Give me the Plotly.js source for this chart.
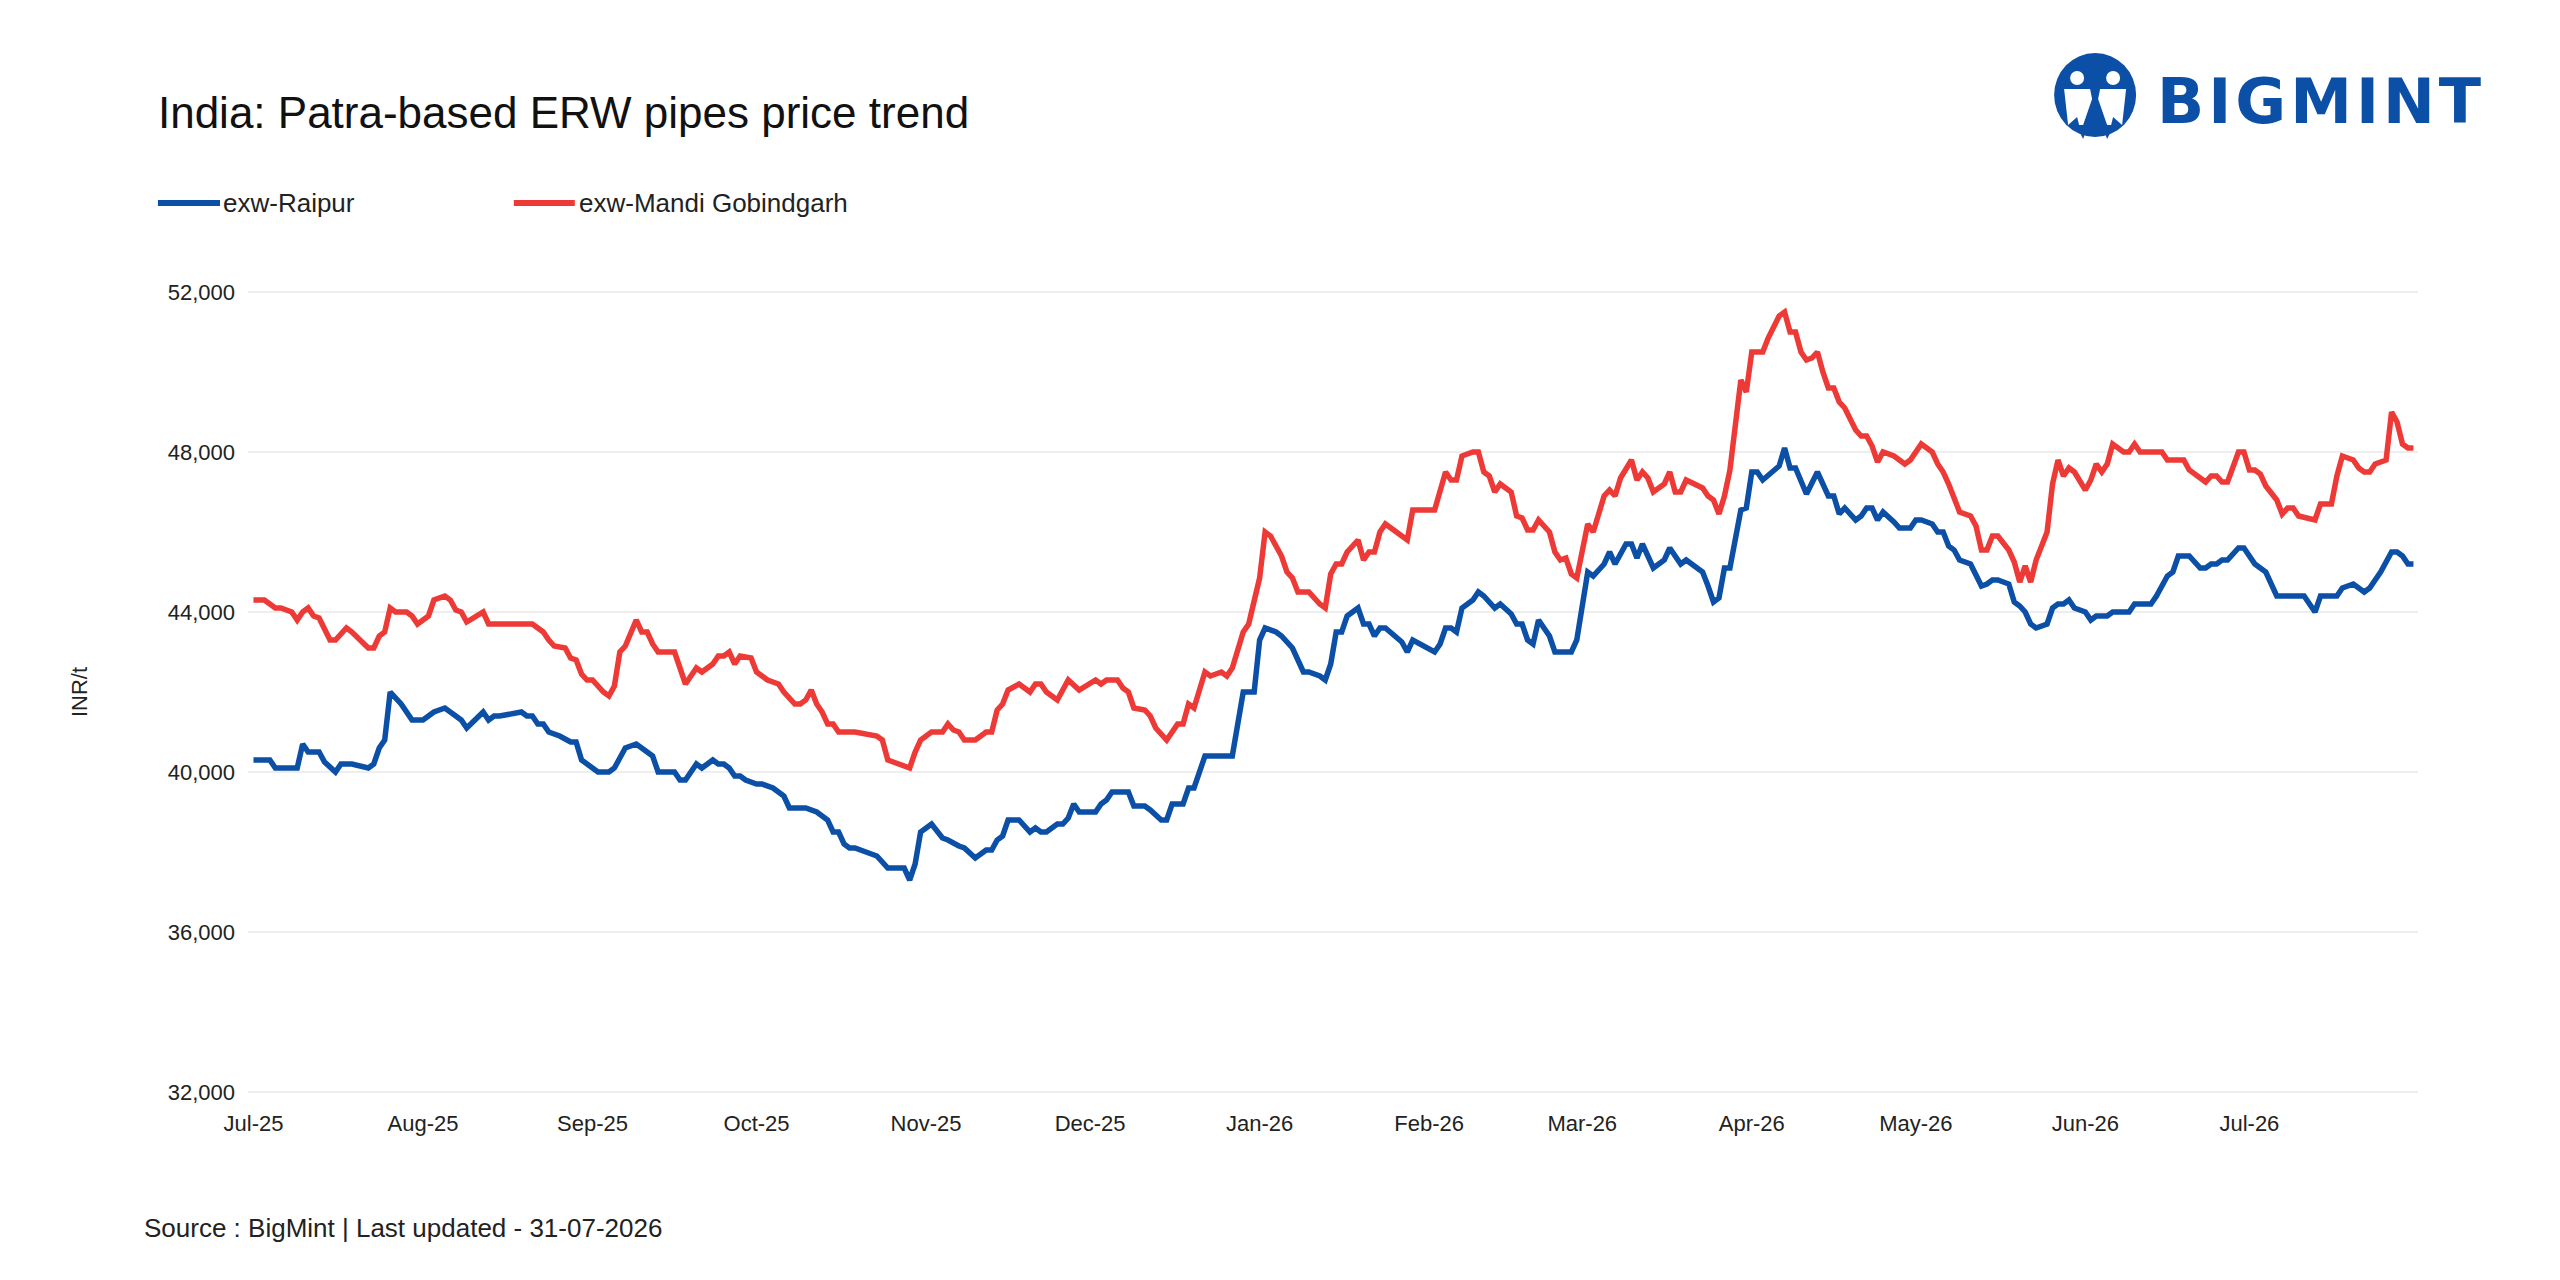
<!DOCTYPE html>
<html>
<head>
<meta charset="utf-8">
<script src="https://cdn.plot.ly/plotly-3.0.1.min.js"></script>
<style>
  html, body { margin: 0; padding: 0; background: #ffffff; }
  #chart { width: 2560px; height: 1280px; }
</style>
</head>
<body>
<div id="chart"></div>
<script>
// Price series (INR/t)

var raipurDates = [
  '2025-07-01','2025-07-04','2025-07-05','2025-07-09','2025-07-10','2025-07-11','2025-07-13','2025-07-14','2025-07-16','2025-07-17',
  '2025-07-19','2025-07-22','2025-07-23','2025-07-24','2025-07-25','2025-07-26','2025-07-28','2025-07-30','2025-08-01','2025-08-03',
  '2025-08-05','2025-08-07','2025-08-08','2025-08-09','2025-08-12','2025-08-13','2025-08-14','2025-08-15','2025-08-19','2025-08-20',
  '2025-08-21','2025-08-22','2025-08-23','2025-08-24','2025-08-25','2025-08-26','2025-08-28','2025-08-29','2025-08-30','2025-08-31',
  '2025-09-02','2025-09-04','2025-09-05','2025-09-06','2025-09-07','2025-09-09','2025-09-10','2025-09-12','2025-09-13','2025-09-16',
  '2025-09-17','2025-09-18','2025-09-20','2025-09-21','2025-09-23','2025-09-24','2025-09-25','2025-09-26','2025-09-27','2025-09-28',
  '2025-09-29','2025-10-01','2025-10-02','2025-10-04','2025-10-05','2025-10-06','2025-10-07','2025-10-10','2025-10-12','2025-10-14',
  '2025-10-15','2025-10-16','2025-10-17','2025-10-18','2025-10-19','2025-10-23','2025-10-25','2025-10-28','2025-10-29','2025-10-30',
  '2025-10-31','2025-11-02','2025-11-04','2025-11-05','2025-11-07','2025-11-08','2025-11-10','2025-11-12','2025-11-13','2025-11-14',
  '2025-11-15','2025-11-16','2025-11-18','2025-11-20','2025-11-21','2025-11-22','2025-11-23','2025-11-25','2025-11-26','2025-11-27',
  '2025-11-28','2025-11-29','2025-12-02','2025-12-03','2025-12-04','2025-12-05','2025-12-08','2025-12-09','2025-12-11','2025-12-12',
  '2025-12-14','2025-12-15','2025-12-16','2025-12-18','2025-12-19','2025-12-20','2025-12-22','2025-12-27','2025-12-29','2025-12-31',
  '2026-01-01','2026-01-02','2026-01-04','2026-01-05','2026-01-07','2026-01-08','2026-01-09','2026-01-10','2026-01-12','2026-01-13',
  '2026-01-14','2026-01-15','2026-01-16','2026-01-17','2026-01-19','2026-01-20','2026-01-21','2026-01-22','2026-01-23','2026-01-24',
  '2026-01-27','2026-01-28','2026-01-29','2026-02-02','2026-02-03','2026-02-04','2026-02-05','2026-02-06','2026-02-07','2026-02-09',
  '2026-02-10','2026-02-11','2026-02-13','2026-02-14','2026-02-16','2026-02-17','2026-02-18','2026-02-19','2026-02-20','2026-02-21',
  '2026-02-23','2026-02-24','2026-02-27','2026-02-28','2026-03-02','2026-03-03','2026-03-05','2026-03-06','2026-03-07','2026-03-09',
  '2026-03-10','2026-03-11','2026-03-12','2026-03-14','2026-03-16','2026-03-17','2026-03-19','2026-03-20','2026-03-23','2026-03-24',
  '2026-03-25','2026-03-26','2026-03-27','2026-03-28','2026-03-30','2026-03-31','2026-04-01','2026-04-02','2026-04-03','2026-04-06',
  '2026-04-07','2026-04-08','2026-04-09','2026-04-11','2026-04-13','2026-04-15','2026-04-16','2026-04-17','2026-04-18','2026-04-20',
  '2026-04-21','2026-04-22','2026-04-23','2026-04-24','2026-04-25','2026-04-27','2026-04-28','2026-04-30','2026-05-01','2026-05-02',
  '2026-05-04','2026-05-05','2026-05-06','2026-05-07','2026-05-08','2026-05-09','2026-05-11','2026-05-13','2026-05-14','2026-05-15',
  '2026-05-16','2026-05-18','2026-05-19','2026-05-20','2026-05-21','2026-05-22','2026-05-23','2026-05-25','2026-05-26','2026-05-27',
  '2026-05-28','2026-05-29','2026-05-30','2026-06-01','2026-06-02','2026-06-03','2026-06-05','2026-06-06','2026-06-09','2026-06-10',
  '2026-06-13','2026-06-14','2026-06-15','2026-06-16','2026-06-17','2026-06-18','2026-06-20','2026-06-22','2026-06-23','2026-06-24',
  '2026-06-25','2026-06-26','2026-06-27','2026-06-29','2026-06-30','2026-07-02','2026-07-04','2026-07-06','2026-07-11','2026-07-13',
  '2026-07-14','2026-07-17','2026-07-18','2026-07-20','2026-07-22','2026-07-23','2026-07-24','2026-07-25','2026-07-27','2026-07-28',
  '2026-07-29','2026-07-30','2026-07-31'
];
var raipurPrices = [
  40300,40300,40100,40100,40700,40500,40500,40250,40000,40200,
  40200,40100,40200,40600,40800,42000,41700,41300,41300,41500,
  41600,41400,41300,41100,41500,41300,41400,41400,41500,41400,
  41400,41200,41200,41000,40950,40900,40750,40750,40300,40200,
  40000,40000,40100,40350,40600,40700,40600,40400,40000,40000,
  39800,39800,40200,40100,40300,40200,40200,40100,39900,39900,
  39800,39700,39700,39600,39500,39400,39100,39100,39000,38800,
  38500,38500,38200,38100,38100,37900,37600,37600,37300,37700,
  38500,38700,38350,38300,38150,38100,37850,38050,38050,38300,
  38400,38800,38800,38500,38600,38500,38500,38700,38700,38850,
  39200,39000,39000,39200,39300,39500,39500,39150,39150,39050,
  38800,38800,39200,39200,39600,39600,40400,40400,42000,42000,
  43300,43600,43500,43400,43100,42800,42500,42500,42400,42300,
  42700,43500,43500,43900,44100,43700,43700,43400,43600,43600,
  43250,43000,43300,43000,43200,43600,43600,43500,44100,44300,
  44500,44400,44100,44200,43950,43700,43700,43300,43200,43800,
  43400,43000,43000,43300,45000,44900,45200,45500,45200,45700,
  45700,45350,45700,45100,45300,45600,45200,45300,45000,44650,
  44250,44350,45100,45100,46550,46600,47500,47500,47300,47650,
  48100,47600,47600,46950,47500,46900,46900,46450,46600,46300,
  46400,46600,46600,46300,46500,46250,46100,46100,46300,46300,
  46200,46000,46000,45650,45550,45300,45200,44650,44700,44800,
  44800,44700,44250,44150,44000,43700,43600,43700,44100,44200,
  44200,44300,44100,44000,43800,43900,43900,44000,44000,44200,
  44200,44400,44650,44900,45000,45400,45400,45100,45100,45200,
  45200,45300,45300,45600,45600,45200,45000,44400,44400,44000,
  44400,44400,44600,44700,44500,44600,44800,45000,45500,45500,
  45400,45200,45200
];

var mandiDates = [
  '2025-07-01','2025-07-03','2025-07-05','2025-07-06','2025-07-08','2025-07-09','2025-07-10','2025-07-11','2025-07-12','2025-07-13',
  '2025-07-15','2025-07-16','2025-07-18','2025-07-19','2025-07-22','2025-07-23','2025-07-24','2025-07-25','2025-07-26','2025-07-27',
  '2025-07-29','2025-07-30','2025-07-31','2025-08-02','2025-08-03','2025-08-05','2025-08-06','2025-08-07','2025-08-08','2025-08-09',
  '2025-08-12','2025-08-13','2025-08-21','2025-08-22','2025-08-23','2025-08-24','2025-08-25','2025-08-27','2025-08-28','2025-08-29',
  '2025-08-30','2025-08-31','2025-09-01','2025-09-03','2025-09-04','2025-09-05','2025-09-06','2025-09-07','2025-09-08','2025-09-09',
  '2025-09-10','2025-09-11','2025-09-12','2025-09-13','2025-09-16','2025-09-18','2025-09-20','2025-09-21','2025-09-23','2025-09-24',
  '2025-09-25','2025-09-26','2025-09-27','2025-09-28','2025-09-30','2025-10-01','2025-10-02','2025-10-03','2025-10-05','2025-10-06',
  '2025-10-08','2025-10-09','2025-10-10','2025-10-11','2025-10-12','2025-10-13','2025-10-14','2025-10-15','2025-10-16','2025-10-19',
  '2025-10-23','2025-10-24','2025-10-25','2025-10-27','2025-10-29','2025-10-30','2025-10-31','2025-11-02','2025-11-04','2025-11-05',
  '2025-11-06','2025-11-07','2025-11-08','2025-11-10','2025-11-12','2025-11-13','2025-11-14','2025-11-15','2025-11-16','2025-11-18',
  '2025-11-20','2025-11-21','2025-11-22','2025-11-23','2025-11-25','2025-11-27','2025-11-29','2025-12-02','2025-12-03','2025-12-04',
  '2025-12-06','2025-12-07','2025-12-08','2025-12-09','2025-12-11','2025-12-12','2025-12-13','2025-12-15','2025-12-17','2025-12-18',
  '2025-12-19','2025-12-20','2025-12-22','2025-12-23','2025-12-25','2025-12-26','2025-12-27','2025-12-29','2025-12-30','2026-01-01',
  '2026-01-02','2026-01-03','2026-01-05','2026-01-06','2026-01-07','2026-01-08','2026-01-10','2026-01-12','2026-01-13','2026-01-14',
  '2026-01-15','2026-01-16','2026-01-17','2026-01-19','2026-01-20','2026-01-21','2026-01-22','2026-01-23','2026-01-24','2026-01-28',
  '2026-01-29','2026-02-02','2026-02-04','2026-02-05','2026-02-06','2026-02-07','2026-02-09','2026-02-10','2026-02-11','2026-02-12',
  '2026-02-13','2026-02-14','2026-02-16','2026-02-17','2026-02-18','2026-02-19','2026-02-20','2026-02-21','2026-02-23','2026-02-24',
  '2026-02-25','2026-02-26','2026-02-27','2026-02-28','2026-03-02','2026-03-03','2026-03-05','2026-03-06','2026-03-07','2026-03-08',
  '2026-03-10','2026-03-11','2026-03-12','2026-03-13','2026-03-14','2026-03-16','2026-03-17','2026-03-18','2026-03-19','2026-03-20',
  '2026-03-23','2026-03-24','2026-03-25','2026-03-26','2026-03-27','2026-03-28','2026-03-29','2026-03-30','2026-03-31','2026-04-01',
  '2026-04-03','2026-04-04','2026-04-06','2026-04-07','2026-04-08','2026-04-09','2026-04-10','2026-04-11','2026-04-12','2026-04-13',
  '2026-04-14','2026-04-15','2026-04-16','2026-04-17','2026-04-18','2026-04-20','2026-04-21','2026-04-22','2026-04-23','2026-04-24',
  '2026-04-25','2026-04-27','2026-04-29','2026-04-30','2026-05-02','2026-05-04','2026-05-05','2026-05-06','2026-05-07','2026-05-08',
  '2026-05-09','2026-05-11','2026-05-12','2026-05-13','2026-05-14','2026-05-15','2026-05-16','2026-05-18','2026-05-19','2026-05-20',
  '2026-05-21','2026-05-22','2026-05-23','2026-05-25','2026-05-26','2026-05-27','2026-05-28','2026-05-29','2026-05-30','2026-06-01',
  '2026-06-02','2026-06-03','2026-06-04','2026-06-05','2026-06-06','2026-06-08','2026-06-09','2026-06-10','2026-06-11','2026-06-15',
  '2026-06-16','2026-06-19','2026-06-20','2026-06-23','2026-06-24','2026-06-25','2026-06-26','2026-06-27','2026-06-29','2026-06-30',
  '2026-07-01','2026-07-02','2026-07-03','2026-07-04','2026-07-06','2026-07-07','2026-07-08','2026-07-09','2026-07-10','2026-07-13',
  '2026-07-14','2026-07-16','2026-07-17','2026-07-18','2026-07-20','2026-07-21','2026-07-22','2026-07-23','2026-07-24','2026-07-26',
  '2026-07-27','2026-07-28','2026-07-29','2026-07-30','2026-07-31'
];
var mandiPrices = [
  44300,44300,44100,44100,44000,43800,44000,44100,43900,43850,
  43300,43300,43600,43500,43100,43100,43400,43500,44100,44000,
  44000,43900,43700,43900,44300,44400,44300,44050,44000,43750,
  44000,43700,43700,43600,43500,43300,43150,43100,42850,42800,
  42450,42300,42300,42000,41900,42150,43000,43150,43500,43800,
  43500,43500,43200,43000,43000,42200,42600,42500,42700,42900,
  42900,43000,42700,42900,42850,42500,42400,42300,42200,42000,
  41700,41700,41800,42050,41700,41500,41200,41200,41000,41000,
  40900,40800,40300,40200,40100,40500,40800,41000,41000,41200,
  41050,41000,40800,40800,41000,41000,41550,41700,42050,42200,
  42000,42200,42200,42000,41800,42300,42050,42300,42200,42300,
  42300,42100,42000,41600,41550,41400,41100,40800,41200,41200,
  41700,41600,42500,42400,42500,42400,42600,43500,43700,44850,
  46000,45900,45400,45000,44850,44500,44500,44200,44100,44950,
  45200,45200,45500,45800,45300,45500,45500,46000,46200,45800,
  46550,46550,47500,47300,47300,47900,48000,48000,47500,47400,
  47000,47200,47000,46400,46350,46050,46050,46300,46000,45500,
  45300,45350,44950,44850,46200,46000,46900,47050,46900,47350,
  47800,47300,47500,47350,47000,47200,47500,47000,47000,47300,
  47100,46900,46800,46450,46900,47550,48650,49800,49500,50500,
  50500,50850,51400,51500,51000,51000,50500,50300,50350,50500,
  50000,49600,49600,49250,49100,48550,48400,48400,48150,47750,
  48000,47900,47700,47800,48200,48000,47700,47500,47200,46800,
  46500,46400,46150,45550,45550,45900,45900,45550,45250,44750,
  45150,44750,45300,46000,47200,47800,47400,47600,47500,47050,
  47300,47700,47500,47700,48200,48000,48000,48200,48000,48000,
  47800,47800,47550,47250,47400,47400,47250,47250,48000,48000,
  47550,47550,47450,47150,46800,46450,46600,46600,46400,46300,
  46700,46700,47400,47900,47800,47600,47500,47500,47700,47800,
  49000,48750,48200,48100,48100
];

var seriesNames = ['exw-Raipur', 'exw-Mandi Gobindgarh'];
var yTicks = [32000, 36000, 40000, 44000, 48000, 52000];

var blue = '#0b4fa6';
var red = '#ee3a36';
var font = 'Liberation Sans, Arial, sans-serif';

var traces = [
  {
    x: raipurDates,
    y: raipurPrices,
    name: seriesNames[0],
    type: 'scatter',
    mode: 'lines',
    line: {color: blue, width: 5.5}
  },
  {
    x: mandiDates,
    y: mandiPrices,
    name: seriesNames[1],
    type: 'scatter',
    mode: 'lines',
    line: {color: red, width: 5.5}
  }
];

// Logo: blue disc with two white figures, drawn in pixel units

var logoX = 0.8512;
var logoY = 1.2389;
function logoShape(type, fill, x0, y0, x1, y1, path) {
  var s = {
    type: type,
    xref: 'paper', yref: 'paper',
    xsizemode: 'pixel', ysizemode: 'pixel',
    xanchor: logoX, yanchor: logoY,
    fillcolor: fill,
    line: {width: 0},
    layer: 'above'
  };
  if (path) {
    s.path = path;
  } else {
    s.x0 = x0; s.y0 = y0; s.x1 = x1; s.y1 = y1;
  }
  return s;
}

var shapes = [
  logoShape('path', blue, 0, 0, 0, 0, 'M-19,-30 L-7,-30 L-12,-44 Z'),
  logoShape('path', blue, 0, 0, 0, 0, 'M7,-30 L19,-30 L12,-44 Z'),
  logoShape('circle', blue, -41, -42, 41, 42),
  logoShape('circle', '#ffffff', -25, 10, -11, 24),
  logoShape('circle', '#ffffff', 11, 10, 25, 24),
  logoShape('path', '#ffffff', 0, 0, 0, 0, 'M-31,6 L-5,6 L-3,-4 L-12,-30 L-16,-30 L-18,-22 L-27,-30 Z'),
  logoShape('path', '#ffffff', 0, 0, 0, 0, 'M31,6 L5,6 L3,-4 L12,-30 L16,-30 L18,-22 L27,-30 Z')
];

// Legend keys drawn as short thick strokes above the plot

var legendY = 1.1052;
var legendKeys = [
  {x0: -0.0415, x1: -0.0129, color: blue, textX: -0.0125},
  {x0: 0.1225, x1: 0.1506, color: red, textX: 0.1515}
];
var annotations = [];
for (var i = 0; i < legendKeys.length; i++) {
  shapes.push({
    type: 'line',
    xref: 'paper', yref: 'paper',
    x0: legendKeys[i].x0, x1: legendKeys[i].x1,
    y0: legendY, y1: legendY,
    line: {color: legendKeys[i].color, width: 6}
  });
  annotations.push({
    text: seriesNames[i],
    xref: 'paper', yref: 'paper',
    x: legendKeys[i].textX, xanchor: 'left',
    y: legendY, yanchor: 'middle',
    showarrow: false,
    font: {family: font, size: 26, color: '#222222'}
  });
}

annotations.push({
  text: 'BIGMINT',
  xref: 'paper', yref: 'paper',
  x: 0.8852, xanchor: 'left',
  y: 1.2302, yanchor: 'middle',
  showarrow: false,
  font: {family: 'DejaVu Sans, Liberation Sans, sans-serif', size: 62, color: blue, weight: 'bold'}
});
annotations.push({
  text: 'Source : BigMint | Last updated - 31-07-2026',
  xref: 'paper', yref: 'paper',
  x: -0.0488, xanchor: 'left',
  y: -0.163, yanchor: 'middle',
  showarrow: false,
  font: {family: font, size: 26, color: '#222222'}
});

var layout = {
  width: 2560,
  height: 1280,
  paper_bgcolor: '#ffffff',
  plot_bgcolor: '#ffffff',
  margin: {l: 248, r: 142, t: 288, b: 184, pad: 0},
  font: {family: font, size: 22, color: '#222222'},
  title: {
    text: 'India: Patra-based ERW pipes price trend',
    font: {family: font, size: 44, color: '#111111'},
    xref: 'container', yref: 'container',
    x: 0.0617, xanchor: 'left',
    y: 0.912, yanchor: 'middle'
  },
  showlegend: false,
  xaxis: {
    type: 'date',
    range: ['2025-06-30', '2026-07-31 20:00'],
    tick0: '2025-07-01',
    dtick: 'M1',
    tickformat: '%b-%y',
    showgrid: false,
    zeroline: false,
    showline: false,
    ticks: '',
    ticklabelstandoff: 12,
    tickfont: {family: font, size: 22, color: '#222222'}
  },
  yaxis: {
    range: [31900, 52100],
    tickvals: yTicks,
    tickformat: ',d',
    showgrid: true,
    gridcolor: '#eeeeee',
    gridwidth: 2,
    zeroline: false,
    showline: false,
    ticks: '',
    ticklabelstandoff: 12,
    tickfont: {family: font, size: 22, color: '#222222'},
    title: {
      text: 'INR/t',
      standoff: 74,
      font: {family: font, size: 22, color: '#222222'}
    }
  },
  shapes: shapes,
  annotations: annotations
};

Plotly.newPlot('chart', traces, layout, {staticPlot: true, displayModeBar: false}).then(function(gd) {
  // the wordmark is set with wide tracking
  var texts = gd.querySelectorAll('.annotation-text');
  for (var j = 0; j < texts.length; j++) {
    if (texts[j].textContent == 'BIGMINT') {
      texts[j].style.letterSpacing = '4px';
    }
  }
});
</script>
</body>
</html>
